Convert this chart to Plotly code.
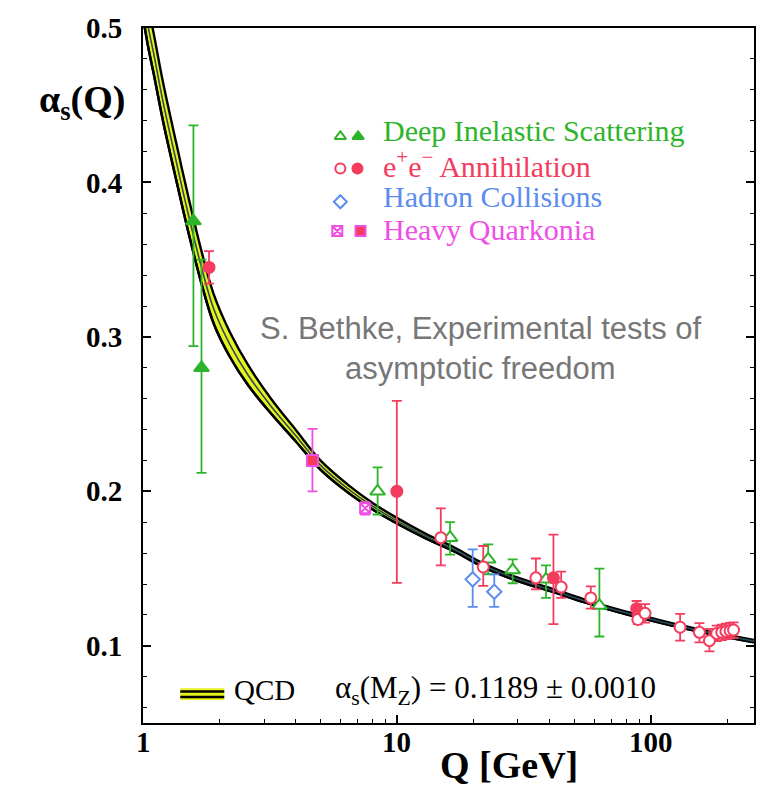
import math
import plotly.graph_objects as go

# ---------------- data ----------------
# QCD running coupling band (central value and half-width)
q_curve = [1.0, 1.05, 1.1, 1.2, 1.35, 1.5, 1.7, 1.9, 2.2, 2.6, 3.2, 4.0, 5.0, 6.5, 8.0,
           10, 13, 17, 22, 30, 40, 55, 75, 91.2, 120, 160, 200, 255]
alpha_curve = [0.520, 0.500, 0.484, 0.452, 0.414, 0.381, 0.345, 0.318, 0.295, 0.275, 0.255,
               0.236, 0.217, 0.201, 0.1905, 0.181, 0.171, 0.162, 0.152, 0.143, 0.1365,
               0.129, 0.1225, 0.1189, 0.114, 0.1095, 0.1063, 0.1030]
alpha_halfwidth = [0.013, 0.013, 0.013, 0.0125, 0.012, 0.0115, 0.0105, 0.0095, 0.008, 0.0065,
                   0.0048, 0.0037, 0.003, 0.0025, 0.0021, 0.0018, 0.0015, 0.0013, 0.0012,
                   0.0011, 0.001, 0.0009, 0.00085, 0.0008, 0.0008, 0.00075, 0.00075, 0.00075]

# Deep inelastic scattering
dis_full_q = [1.58, 1.70]
dis_full_a = [0.375, 0.280]
dis_full_up = [0.062, 0.070]
dis_full_dn = [0.081, 0.068]
dis_open_q = [8.4, 16.2, 22.9, 28.6, 38.7, 62.8]
dis_open_a = [0.200, 0.170, 0.156, 0.149, 0.143, 0.126]
dis_open_up = [0.0155, 0.010, 0.0096, 0.007, 0.009, 0.024]
dis_open_dn = [0.015, 0.011, 0.0097, 0.0085, 0.012, 0.020]

# e+e- annihilation
ee_full_q = [1.82, 10.0, 41.4, 88.0]
ee_full_a = [0.345, 0.200, 0.144, 0.124]
ee_full_up = [0.0105, 0.0586, 0.028, 0.005]
ee_full_dn = [0.0105, 0.0593, 0.030, 0.004]
ee_open_q = [14.9, 21.9, 35.3, 44.4, 58.1, 89.0, 95.0, 130.6, 155.6, 170.4,
             182, 190.6, 198, 205.5, 212]
ee_open_a = [0.170, 0.151, 0.144, 0.138, 0.131, 0.117, 0.121, 0.112, 0.1087, 0.1033,
             0.108, 0.1087, 0.1093, 0.1098, 0.1102]
ee_open_up = [0.019, 0.0136, 0.0125, 0.010, 0.0075, 0.004, 0.006, 0.0087, 0.006, 0.0076,
              0.005, 0.005, 0.005, 0.005, 0.005]
ee_open_dn = [0.018, 0.0122, 0.0075, 0.007, 0.007, 0.003, 0.006, 0.0086, 0.0065, 0.0069,
              0.005, 0.005, 0.005, 0.005, 0.005]

# Hadron collisions
had_q = [19.9, 24.2]
had_a = [0.143, 0.135]
had_up = [0.0194, 0.0112]
had_dn = [0.0178, 0.0098]

# Heavy quarkonia
hq_full_q = [4.65]
hq_full_a = [0.220]
hq_full_up = [0.0205]
hq_full_dn = [0.020]
hq_open_q = [7.5]
hq_open_a = [0.189]
hq_open_up = [0.004]
hq_open_dn = [0.004]

x_ticks = [1, 10, 100]
x_tick_text = ["1", "10", "100"]
x_minor = [2, 3, 4, 5, 6, 7, 8, 9, 20, 30, 40, 50, 60, 70, 80, 90, 200]
y_ticks = [0.1, 0.2, 0.3, 0.4, 0.5]
y_tick_text = ["0.1", "0.2", "0.3", "0.4", "0.5"]
y_minor = [0.06, 0.08, 0.12, 0.14, 0.16, 0.18, 0.22, 0.24, 0.26, 0.28, 0.32, 0.34,
           0.36, 0.38, 0.42, 0.44, 0.46, 0.48]

legend_labels = ["Deep Inelastic Scattering", "e<sup>+</sup>e<sup>\u2212</sup> Annihilation",
                 "Hadron Collisions", "Heavy Quarkonia"]

# ---------------- styles ----------------
GREEN = "#2db42a"
RED = "#f43c5e"
BLUE = "#5b8cef"
MAGENTA = "#ef4fe4"
YELLOW = "#e6f21c"
CENTER = "#2b4a5c"
SERIF = "Liberation Serif"
SANS = "Liberation Sans"

alpha_hi = [a + d for a, d in zip(alpha_curve, alpha_halfwidth)]
alpha_lo = [a - d for a, d in zip(alpha_curve, alpha_halfwidth)]

fig = go.Figure()

# QCD band
fig.add_trace(go.Scatter(x=q_curve, y=alpha_lo, mode="lines", line=dict(color="black", width=2.4, shape="spline"),
                         hoverinfo="skip", showlegend=False))
fig.add_trace(go.Scatter(x=q_curve, y=alpha_hi, mode="lines", line=dict(color="black", width=2.4, shape="spline"),
                         fill="tonexty", fillcolor=YELLOW, hoverinfo="skip", showlegend=False))
fig.add_trace(go.Scatter(x=q_curve, y=alpha_lo, mode="lines", line=dict(color="black", width=2.4, shape="spline"),
                         hoverinfo="skip", showlegend=False))
fig.add_trace(go.Scatter(x=q_curve, y=alpha_curve, mode="lines", line=dict(color=CENTER, width=1.6, shape="spline"),
                         hoverinfo="skip", showlegend=False))


def pts(q, a, up, dn, color, symbol, fill, size=11, lw=2):
    fig.add_trace(go.Scatter(
        x=q, y=a, mode="markers",
        marker=dict(symbol=symbol, size=size, color=fill, line=dict(color=color, width=lw)),
        error_y=dict(type="data", symmetric=False, array=up, arrayminus=dn,
                     color=color, thickness=1.8, width=5),
        showlegend=False, cliponaxis=False))


pts(dis_full_q, dis_full_a, dis_full_up, dis_full_dn, GREEN, "triangle-up", GREEN, 13)
pts(dis_open_q, dis_open_a, dis_open_up, dis_open_dn, GREEN, "triangle-up", "white", 13)
pts(ee_full_q, ee_full_a, ee_full_up, ee_full_dn, RED, "circle", RED, 11)
pts(ee_open_q, ee_open_a, ee_open_up, ee_open_dn, RED, "circle", "white", 11)
pts(had_q, had_a, had_up, had_dn, BLUE, "diamond", "white", 11)
pts(hq_full_q, hq_full_a, hq_full_up, hq_full_dn, MAGENTA, "square", RED, 11)
pts(hq_open_q, hq_open_a, hq_open_up, hq_open_dn, MAGENTA, "square-x", "white", 10)

# legend symbols (overlay axes in plot-area fractions)
leg_sym = [
    (0.323, 0.844, "triangle-up", GREEN, "white"),
    (0.352, 0.844, "triangle-up", GREEN, GREEN),
    (0.323, 0.798, "circle", RED, "white"),
    (0.351, 0.798, "circle", RED, RED),
    (0.323, 0.750, "diamond", BLUE, "white"),
    (0.318, 0.708, "square-x", MAGENTA, "white"),
    (0.356, 0.708, "square", MAGENTA, RED),
]
for xs, ys, sym, col, fc in leg_sym:
    fig.add_trace(go.Scatter(x=[xs], y=[ys], xaxis="x2", yaxis="y2", mode="markers",
                             marker=dict(symbol=sym, size=10, color=fc, line=dict(color=col, width=2)),
                             showlegend=False, hoverinfo="skip"))

leg_y = [0.853, 0.805, 0.757, 0.710]
leg_col = [GREEN, RED, BLUE, MAGENTA]
annotations = []
for lab, ly, col in zip(legend_labels, leg_y, leg_col):
    annotations.append(dict(xref="paper", yref="paper", x=0.389, y=ly, xanchor="left", yanchor="middle",
                            text=lab, showarrow=False, font=dict(family=SERIF, size=30, color=col)))

# x tick labels placed at the axis values
for v, t in zip(x_ticks, x_tick_text):
    annotations.append(dict(xref="x", yref="paper", x=math.log10(v), y=-0.027, xanchor="center",
                            yanchor="middle", text="<b>%s</b>" % t, showarrow=False,
                            font=dict(family=SERIF, size=29, color="black")))

annotations += [
    dict(xref="paper", yref="paper", x=0.5516, y=0.568, xanchor="center", yanchor="middle",
         text="S. Bethke, Experimental tests of", showarrow=False,
         font=dict(family=SANS, size=31, color="#777777")),
    dict(xref="paper", yref="paper", x=0.5516, y=0.510, xanchor="center", yanchor="middle",
         text="asymptotic freedom", showarrow=False,
         font=dict(family=SANS, size=31, color="#777777")),
    dict(xref="paper", yref="paper", x=0.146, y=0.047, xanchor="left", yanchor="middle",
         text="QCD", showarrow=False, font=dict(family=SERIF, size=29, color="black")),
    dict(xref="paper", yref="paper", x=0.311, y=0.047, xanchor="left", yanchor="middle",
         text="\u03b1<sub>s</sub>(M<sub>Z</sub>) = 0.1189 \u00b1 0.0010", showarrow=False,
         font=dict(family=SERIF, size=31, color="black")),
    dict(xref="paper", yref="paper", x=-0.026, y=0.894, xanchor="right", yanchor="middle",
         text="<b>\u03b1<sub>s</sub>(Q)</b>", showarrow=False,
         font=dict(family=SERIF, size=38, color="black")),
    dict(xref="paper", yref="paper", x=0.599, y=-0.060, xanchor="center", yanchor="middle",
         text="<b>Q [GeV]</b>", showarrow=False,
         font=dict(family=SERIF, size=38, color="black")),
]

shapes = [
    dict(type="rect", xref="paper", yref="paper", x0=0.061, x1=0.133, y0=0.033, y1=0.050,
         fillcolor=YELLOW, line=dict(width=0)),
    dict(type="line", xref="paper", yref="paper", x0=0.061, x1=0.133, y0=0.0455, y1=0.0455,
         line=dict(color="black", width=2.5)),
    dict(type="line", xref="paper", yref="paper", x0=0.061, x1=0.133, y0=0.0375, y1=0.0375,
         line=dict(color="black", width=2.5)),
]

tickfont = dict(family=SERIF, size=29, color="black", weight="bold")

fig.update_layout(
    width=769, height=787,
    margin=dict(l=143, r=15, t=23, b=64),
    paper_bgcolor="white", plot_bgcolor="white",
    showlegend=False,
    xaxis=dict(type="log", range=[0, 2.407], tickmode="array", tickvals=x_ticks, ticktext=x_tick_text,
               ticks="inside", ticklen=8, tickwidth=1.5, tickcolor="black", showticklabels=False,
               showline=True, linecolor="black", linewidth=2, mirror=True,
               showgrid=False, zeroline=False,
               minor=dict(tickmode="array", tickvals=x_minor, ticks="inside", ticklen=4,
                          tickwidth=1.2, tickcolor="black", showgrid=False)),
    yaxis=dict(range=[0.05, 0.5], tickmode="array", tickvals=y_ticks, ticktext=y_tick_text,
               ticks="inside", ticklen=8, tickwidth=1.5, tickcolor="black",
               showline=True, linecolor="black", linewidth=2, mirror="ticks",
               showgrid=False, zeroline=False, tickfont=tickfont, ticklabelstandoff=13,
               minor=dict(tickmode="array", tickvals=y_minor, ticks="inside", ticklen=4,
                          tickwidth=1.2, tickcolor="black", showgrid=False)),
    xaxis2=dict(overlaying="x", range=[0, 1], visible=False, fixedrange=True),
    yaxis2=dict(overlaying="y", range=[0, 1], visible=False, fixedrange=True),
    annotations=annotations,
    shapes=shapes,
)

fig.write_html("out.html")
